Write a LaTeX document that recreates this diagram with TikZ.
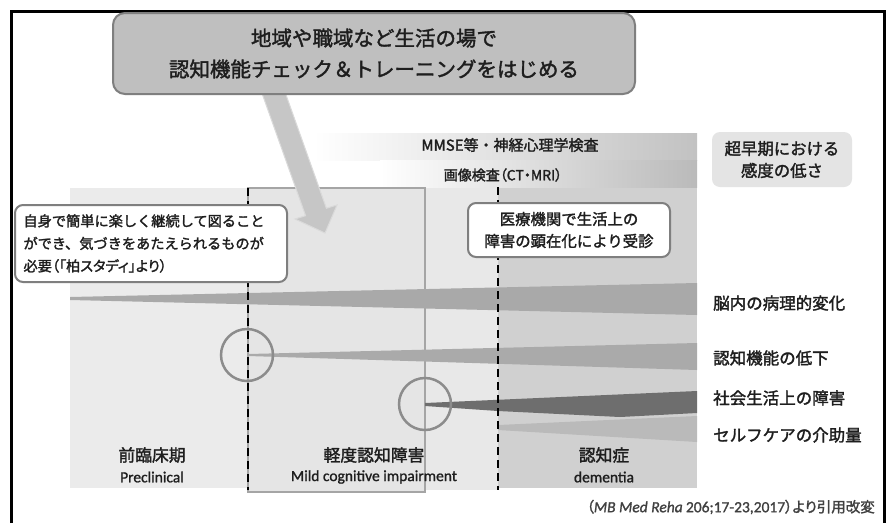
\documentclass[tikz,border=0pt]{standalone}
\usepackage{fontspec}
\setmainfont{Noto Sans CJK JP}[FakeBold=1.8]
\newfontfamily\jpp{Noto Sans CJK JP}[FakeBold=1.8, RawFeature=+palt]
\newfontfamily\lat{Carlito}[FakeBold=1.2]
\definecolor{calloutfill}{HTML}{BFBFBF}
\definecolor{calloutdraw}{HTML}{7F7F7F}
\definecolor{arrowfill}{HTML}{C6C6C6}
\definecolor{arrowdraw}{HTML}{DADADA}
\definecolor{preclin}{HTML}{EBEBEB}
\definecolor{mcifill}{HTML}{E5E5E5}
\definecolor{mcidraw}{HTML}{A5A5A5}
\definecolor{midfill}{HTML}{E8E8E8}
\definecolor{demfill}{HTML}{D0D0D0}
\definecolor{pathband}{HTML}{A9A9A9}
\definecolor{cogband}{HTML}{AAAAAA}
\definecolor{socband}{HTML}{6E6E6E}
\definecolor{careband}{HTML}{BABABA}
\definecolor{circdraw}{HTML}{8C8C8C}
\definecolor{boxdraw}{HTML}{7F7F7F}
\definecolor{txt}{HTML}{1E1E1E}
\definecolor{lowfill}{HTML}{E4E4E4}
\tikzset{
  callout/.style={draw=calloutdraw, fill=calloutfill, line width=2pt, rounded corners=12pt,
    minimum width=522pt, minimum height=81pt, align=center, text=txt,
    font=\fontsize{20.5}{31}\selectfont},
  notebox/.style={draw=boxdraw, fill=white, line width=2pt, rounded corners=8pt, text=txt},
  lowbox/.style={fill=lowfill, rounded corners=8pt, minimum width=140pt, minimum height=55pt,
    align=center, text=txt, font=\fontsize{16.4}{22}\selectfont},
  rlabel/.style={anchor=west, text=txt, inner sep=0pt, font=\fontsize{16.5}{20}\selectfont},
  jlabel/.style={text=txt, inner sep=0pt, font=\fontsize{16.8}{20}\selectfont},
  elabel/.style={text=txt, inner sep=0pt, font=\lat\fontsize{15.5}{18}\selectfont},
  circmark/.style={draw=circdraw, line width=2.5pt, circle, minimum size=52pt, inner sep=0pt},
  phase/.style={draw=black, line width=2pt, dash pattern=on 8pt off 5pt},
}
\begin{document}
\begin{tikzpicture}[x=1pt,y=-1pt]
\useasboundingbox (0,0) rectangle (888,523);
\fill[white] (0,0) rectangle (888,523);
% outer frame
\draw[line width=3pt] (11,523) -- (11,11) -- (884,11) -- (884,523);

% background panels
\fill[preclin] (70,188) rectangle (248,488);
\fill[midfill] (425,187) rectangle (498,490);
\fill[demfill] (498,187) rectangle (697,488);
\shade[left color=white, right color=black!24] (313,133) rectangle (697,160);
\shade[left color=white, right color=black!27] (380,160) rectangle (697,187);
\draw[mcidraw, fill=mcifill, line width=2pt] (248,188) rectangle (425,492);

% bands
\fill[pathband] (70,297) -- (697,283) -- (697,315) -- (70,300) -- cycle;
\fill[cogband] (248,354) -- (697,343) -- (697,370) -- (248,356) -- cycle;
\fill[socband] (425,403) -- (697,391) -- (697,413) -- (620,417) -- (498,411) -- (425,406) -- cycle;
\fill[careband] (498,425) -- (697,416) -- (697,442) -- (498,430) -- cycle;

% phase borders
\coordinate (d1t) at (247.5,188);
\coordinate (d1b) at (247.5,490);
\coordinate (d2t) at (498,187);
\coordinate (d2b) at (498,490);
\draw[phase] (d1t) -- (d1b);
\draw[phase] (d2t) -- (d2b);

% circles
\node[circmark] (c1) at (247,355) {};
\node[circmark] (c2) at (425,404) {};

% arrow from callout
\fill[arrowfill, draw=arrowdraw, line width=1pt]
  (258.6,83.7) -- (279.4,76.3) -- (326.4,208.3) -- (337,205) -- (325,233) -- (295,219) -- (305.6,215.7) -- cycle;

% callout
\node[callout] (top) at (374,53.5) {地域や職域など生活の場で\\認知機能チェック＆トレーニングをはじめる};

% note boxes
\node[notebox, align=left, text width=255pt, inner xsep=8.5pt, minimum height=77pt,
  font=\fontsize{14.2}{22.5}\selectfont] (self) at (151,243.5)
  {自身で簡単に楽しく継続して図ること\\ができ、気づきをあたえられるものが\\{\jpp 必要（「柏スタディ」より）}};
\node[notebox, align=center, minimum width=202pt, minimum height=54pt,
  font=\fontsize{15.4}{22}\selectfont] (clinic) at (569,230)
  {医療機関で生活上の\\障害の顕在化により受診};
\node[lowbox] (low) at (782,159.5) {超早期における\\感度の低さ};

% exam labels
\node[text=txt, inner sep=0pt, font=\fontsize{15}{17}\selectfont] (mmse) at (510,145) {MMSE等・神経心理学検査};
\node[text=txt, inner sep=0pt, font=\jpp\fontsize{14}{16}\selectfont] (img) at (503,175) {画像検査（CT・MRI）};

% right labels
\node[rlabel] (l1) at (713,303) {脳内の病理的変化};
\node[rlabel] (l2) at (713,358) {認知機能の低下};
\node[rlabel] (l3) at (713,398) {社会生活上の障害};
\node[rlabel] (l4) at (713,435) {セルフケアの介助量};

% phase labels
\node[jlabel] (p1) at (152,455) {前臨床期};
\node[elabel] (p1e) at (152,477) {Preclinical};
\node[jlabel] (p2) at (374,455) {軽度認知障害};
\node[elabel] (p2e) at (374,477) {Mild cognitive impairment};
\node[jlabel] (p3) at (604,455) {認知症};
\node[elabel] (p3e) at (604,477) {dementia};

% citation
\node[anchor=east, text=txt!85, inner sep=0pt, font=\jpp\fontsize{14.5}{16}\selectfont] (cite) at (875,507)
  {（{\lat\fontsize{15.5}{16}\selectfont\itshape MB Med Reha} {\lat\fontsize{15.5}{16}\selectfont 206;17-23,2017}）より引用改変};
\end{tikzpicture}
\end{document}
